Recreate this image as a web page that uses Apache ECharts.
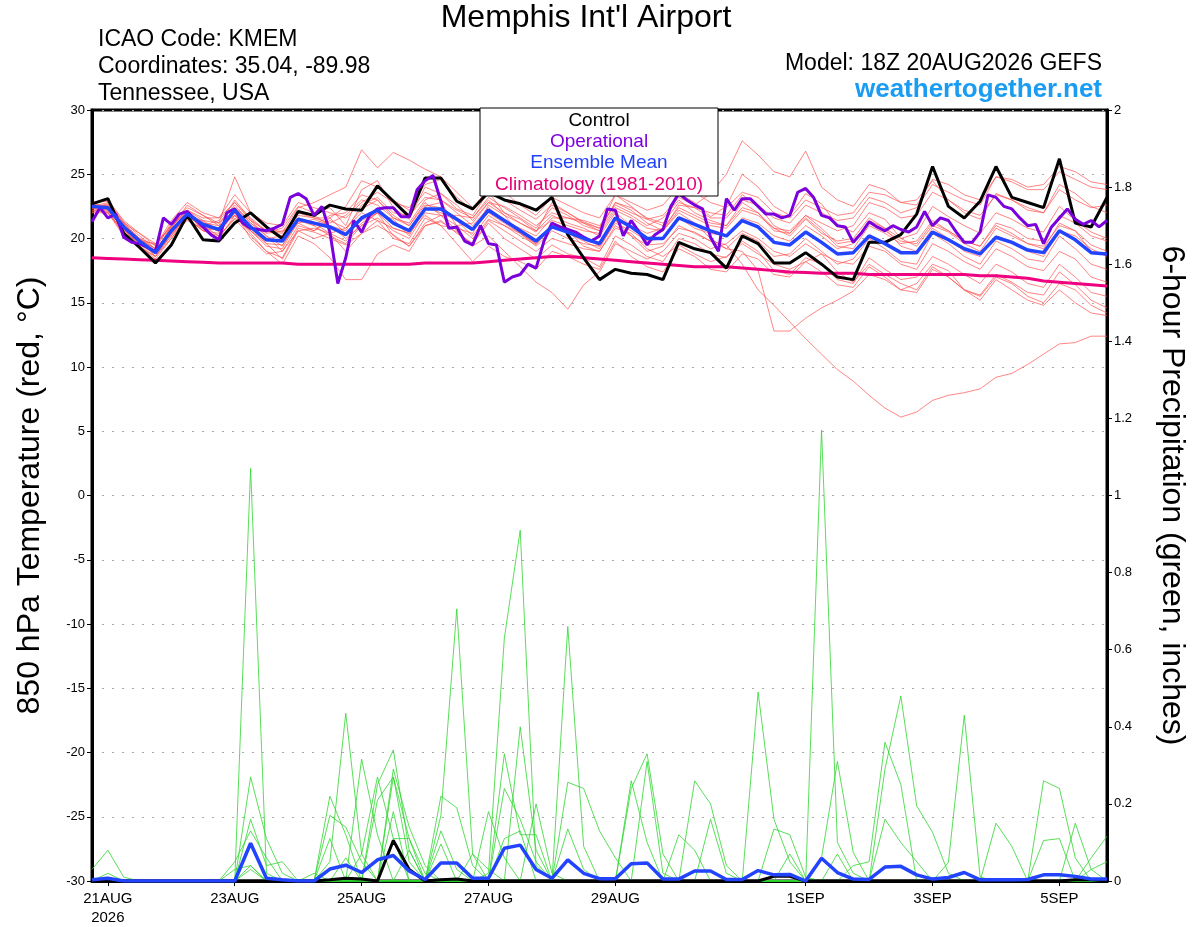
<!DOCTYPE html>
<html>
<head>
<meta charset="utf-8">
<script src="https://cdn.jsdelivr.net/npm/echarts@6/dist/echarts.min.js"></script>
<style>
  html, body { margin: 0; padding: 0; background: #fff; }
  #myChart { width: 1200px; height: 927px; }
</style>
</head>
<body>
<div id="myChart"></div>
<script>
// forecast hours from 20AUG2026 18Z, ensemble every 6 h, operational every 3 h
var tickHours = [6, 54, 102, 150, 198, 270, 318, 366];
var tickNames = ['21AUG\n2026', '23AUG', '25AUG', '27AUG', '29AUG', '1SEP', '3SEP', '5SEP'];

// 850 hPa temperature (C), 6-hourly
var controlTemp = [22.7, 23.1, 20.4, 19.3, 18.1, 19.5, 21.8, 19.9, 19.8, 21.2, 22.0, 20.9, 20.0, 22.1, 21.8, 22.6, 22.3, 22.2, 24.1, 22.9, 21.7, 24.7, 24.7, 22.9, 22.3, 23.6, 23.0, 22.7, 22.2, 23.2, 20.3, 18.5, 16.8, 17.6, 17.3, 17.2, 16.8, 19.7, 19.2, 18.9, 17.7, 20.2, 19.6, 18.1, 18.1, 18.9, 18.0, 17.0, 16.8, 19.7, 19.7, 20.3, 21.9, 25.6, 22.5, 21.6, 22.9, 25.6, 23.2, 22.8, 22.4, 26.2, 21.2, 20.9, 23.2];
var meanTemp = [22.5, 22.4, 20.9, 19.8, 18.9, 20.6, 21.9, 21.1, 20.7, 22.2, 20.9, 19.9, 19.8, 21.5, 21.2, 20.9, 20.3, 21.6, 22.2, 21.2, 20.6, 22.3, 22.3, 21.5, 20.7, 22.2, 21.4, 20.6, 19.8, 20.9, 20.5, 20.0, 19.6, 21.6, 20.9, 20.0, 20.0, 21.6, 21.1, 20.6, 20.2, 21.4, 20.9, 19.7, 19.5, 20.5, 19.7, 18.8, 18.9, 20.2, 19.6, 18.9, 18.9, 20.5, 19.9, 19.2, 18.8, 20.1, 19.7, 19.1, 18.9, 20.6, 19.9, 18.9, 18.8];
var climoTemp = [18.5, 18.45, 18.4, 18.35, 18.3, 18.25, 18.2, 18.15, 18.1, 18.1, 18.1, 18.1, 18.1, 18.0, 18.0, 18.0, 18.0, 18.0, 18.0, 18.0, 18.0, 18.1, 18.1, 18.1, 18.1, 18.2, 18.3, 18.4, 18.5, 18.6, 18.6, 18.5, 18.4, 18.3, 18.2, 18.1, 18.0, 17.9, 17.8, 17.8, 17.8, 17.7, 17.6, 17.5, 17.4, 17.35, 17.3, 17.3, 17.3, 17.2, 17.2, 17.2, 17.2, 17.2, 17.2, 17.2, 17.1, 17.1, 17.0, 16.9, 16.7, 16.6, 16.5, 16.4, 16.3];

// operational run, 3-hourly
var operTemp = [21.3, 22.4, 21.6, 21.9, 20.1, 19.7, 19.6, 19.3, 19.0, 21.6, 21.1, 21.9, 22.1, 21.5, 20.9, 20.3, 19.9, 22.0, 22.3, 21.2, 20.8, 20.7, 20.6, 20.8, 21.1, 23.2, 23.5, 23.1, 21.8, 22.5, 20.5, 16.5, 18.5, 21.4, 20.5, 21.8, 22.3, 22.4, 22.4, 21.7, 21.7, 23.8, 24.5,
  24.9, 22.9, 20.8, 20.9, 19.8, 19.5, 21.0, 19.6, 19.5, 16.6, 17.0, 17.2, 18.0, 17.7, 19.8, 21.2, 20.9, 20.7, 20.5, 20.1, 19.8, 20.2, 22.3, 22.2, 20.2, 21.4, 20.5, 19.5, 20.3, 20.7, 22.5, 23.5, 23.0, 22.6, 22.3, 20.1, 19.0, 23.1, 22.2, 23.1, 23.1, 22.5,
  21.9, 21.9, 21.6, 21.8, 23.6, 23.9, 23.2, 21.8, 21.6, 21.0, 20.9, 19.7, 20.4, 21.3, 20.9, 20.6, 21.0, 20.7, 20.5, 20.9, 22.1, 21.0, 21.6, 21.4, 20.5, 19.7, 19.7, 20.5, 23.4, 23.2, 22.5, 22.3, 21.6, 21.0, 21.1, 19.6, 20.9, 21.6, 22.3, 21.5, 21.1, 21.4, 20.9, 21.4];

// ensemble members, 850 hPa temperature, 6-hourly
var tempMembers = [
  [22.8, 22.9, 21.3, 20.2, 19.2, 21.2, 22.4, 21.8, 21.0, 23.0, 21.5, 20.5, 20.8, 22.5, 22.0, 22.4, 21.0, 23.8, 24.5, 22.4, 21.5, 24.0, 23.5, 22.3, 21.8, 23.6, 22.0, 21.2, 20.5, 22.8, 22.0, 21.3, 20.8, 23.4, 22.5, 21.5, 21.0, 23.5, 22.8, 21.7, 22.5, 25.0, 24.0, 22.5, 21.8, 23.5, 22.7, 21.0, 20.5, 22.0, 21.5, 20.0, 20.4, 22.5, 21.7, 21.0, 20.4, 22.0, 21.5, 20.8, 20.5, 22.5, 21.4, 20.5, 20.0],
  [22.0, 22.0, 20.4, 19.3, 18.6, 20.0, 21.5, 20.6, 20.2, 21.5, 20.2, 19.0, 18.5, 20.8, 20.5, 20.0, 19.5, 20.4, 21.0, 20.3, 19.4, 21.0, 21.3, 20.5, 19.6, 21.2, 20.0, 19.2, 18.4, 19.5, 18.8, 18.5, 17.8, 20.2, 19.5, 18.6, 18.2, 20.0, 19.6, 18.8, 18.5, 19.8, 19.0, 17.5, 17.2, 18.5, 18.0, 16.8, 16.5, 18.5, 17.6, 16.8, 17.0, 18.6, 18.0, 17.2, 16.5, 18.0, 17.4, 16.5, 16.2, 18.0, 17.0, 15.8, 15.5],
  [22.3, 22.6, 21.0, 19.6, 19.0, 20.8, 22.0, 21.3, 20.5, 22.0, 21.0, 19.6, 19.5, 21.2, 21.5, 21.0, 20.0, 21.0, 22.0, 21.5, 20.2, 22.5, 22.8, 21.0, 20.0, 21.5, 21.0, 20.2, 19.5, 21.0, 20.6, 19.4, 19.0, 21.0, 20.2, 19.5, 19.6, 20.8, 20.5, 19.8, 19.5, 18.0, 16.0, 14.8, 13.5, 12.2, 11.0, 9.8, 8.9, 7.8, 6.8, 6.1, 6.5, 7.4, 7.8, 8.0, 8.3, 9.2, 9.5, 10.2, 11.0, 11.8, 11.9, 12.4, 12.4],
  [22.6, 22.2, 20.6, 19.9, 19.2, 20.3, 21.6, 21.4, 21.2, 22.6, 21.2, 20.2, 19.0, 21.0, 20.6, 21.4, 20.8, 22.3, 23.0, 21.8, 21.0, 22.8, 21.8, 21.0, 21.2, 22.8, 22.0, 21.5, 20.6, 21.4, 21.0, 20.6, 20.4, 22.2, 21.6, 20.8, 20.6, 22.0, 21.2, 20.0, 19.2, 19.0, 17.5, 12.8, 12.8, 13.8, 14.6, 15.2, 15.9, 17.2, 16.8, 16.0, 16.5, 18.0, 17.5, 16.0, 15.5, 17.0, 16.5, 15.5, 15.0, 16.5, 16.0, 14.8, 14.2],
  [22.4, 22.7, 21.2, 20.0, 19.5, 21.0, 22.2, 21.0, 21.4, 22.8, 21.4, 20.6, 20.4, 22.0, 21.6, 21.2, 21.8, 23.0, 22.6, 21.6, 21.2, 23.0, 23.5, 22.6, 21.4, 22.8, 22.5, 21.8, 21.0, 22.0, 21.6, 21.4, 21.0, 22.6, 22.0, 21.5, 21.8, 23.2, 22.6, 23.5, 25.0, 27.6, 26.5, 25.2, 24.8, 26.8, 24.0, 23.0, 22.5, 24.2, 23.8, 22.8, 23.0, 24.5, 23.0, 22.0, 21.5, 23.5, 23.0, 22.4, 22.0, 24.2, 23.5, 22.5, 22.0],
  [22.6, 22.3, 21.2, 20.4, 19.6, 20.8, 22.6, 21.8, 21.2, 24.8, 22.0, 20.8, 20.5, 22.4, 22.8, 23.4, 24.0, 26.9, 25.5, 26.7, 26.1, 25.4, 24.8, 23.6, 22.4, 23.8, 23.0, 22.2, 21.5, 22.6, 22.0, 21.2, 20.6, 22.4, 21.8, 21.0, 21.6, 23.0, 22.0, 21.4, 21.0, 22.4, 22.0, 20.8, 20.2, 21.5, 20.4, 19.8, 20.0, 21.6, 20.8, 20.0, 19.4, 21.0, 20.5, 19.6, 19.0, 20.8, 20.2, 19.6, 19.4, 21.0, 20.6, 19.5, 19.0],
  [22.2, 22.0, 20.6, 19.6, 18.8, 20.2, 21.4, 20.8, 20.0, 21.8, 20.4, 19.0, 18.0, 20.2, 19.6, 18.5, 16.8, 16.8, 18.8, 19.5, 19.0, 21.0, 21.4, 20.4, 19.6, 21.4, 20.6, 19.8, 19.0, 20.0, 19.6, 19.2, 19.0, 20.8, 20.4, 19.2, 18.6, 19.5, 18.8, 18.2, 18.6, 19.6, 18.8, 18.0, 17.6, 18.2, 18.8, 17.4, 16.6, 18.0, 17.2, 16.5, 16.0, 17.8, 17.0, 16.0, 15.2, 16.8, 16.0, 15.2, 14.8, 16.0, 15.0, 14.2, 14.0],
  [22.5, 22.8, 21.2, 19.8, 18.6, 20.4, 21.8, 21.0, 20.2, 21.6, 20.6, 19.4, 19.2, 21.4, 21.0, 20.2, 19.6, 21.0, 21.6, 20.6, 20.0, 22.0, 21.8, 20.6, 19.4, 20.2, 19.0, 17.8, 16.6, 15.8, 14.5, 16.4, 17.4, 19.6, 19.0, 18.4, 19.0, 20.4, 20.0, 19.2, 19.6, 20.6, 20.0, 19.0, 18.6, 19.6, 18.8, 18.2, 18.0, 19.4, 19.0, 18.0, 17.6, 19.6, 19.0, 18.2, 17.6, 19.2, 18.6, 17.8, 17.5, 19.0, 18.4, 17.0, 16.6],
  [22.8, 23.0, 21.4, 20.4, 19.4, 21.4, 22.8, 22.0, 21.6, 23.4, 22.0, 21.2, 21.0, 22.8, 22.4, 22.0, 21.6, 22.8, 23.6, 22.8, 22.4, 24.2, 24.6, 23.2, 22.2, 24.0, 23.6, 22.6, 21.8, 23.2, 22.6, 22.0, 21.6, 23.4, 22.8, 22.2, 22.6, 24.0, 23.6, 22.8, 22.4, 23.6, 23.2, 22.0, 21.6, 23.0, 22.4, 21.8, 22.0, 23.6, 23.4, 22.8, 22.6, 24.6, 24.2, 23.4, 23.0, 24.8, 24.4, 23.8, 23.8, 25.2, 24.6, 24.0, 23.8],
  [22.0, 22.4, 20.8, 19.4, 18.4, 20.0, 21.6, 20.6, 20.4, 22.0, 20.0, 18.8, 19.0, 20.6, 20.0, 20.4, 20.8, 22.0, 21.4, 20.0, 19.6, 21.6, 21.0, 20.8, 20.4, 22.6, 21.8, 21.2, 20.6, 21.8, 21.2, 20.8, 20.2, 22.0, 21.0, 20.0, 20.6, 22.2, 21.6, 21.0, 20.8, 22.2, 21.8, 20.8, 20.6, 21.8, 21.2, 20.6, 21.0, 22.8, 22.4, 21.6, 21.8, 23.6, 23.0, 22.2, 21.8, 23.4, 23.0, 22.2, 22.0, 23.8, 23.0, 22.4, 22.6],
  [22.4, 22.1, 20.4, 19.8, 19.6, 21.0, 22.0, 20.6, 20.8, 22.4, 21.2, 20.4, 20.6, 21.2, 20.6, 21.6, 20.4, 21.4, 22.0, 20.2, 19.4, 21.2, 21.8, 21.8, 21.6, 23.0, 21.8, 20.4, 19.6, 21.0, 20.4, 19.8, 19.2, 21.4, 20.2, 19.0, 19.4, 21.0, 20.4, 19.8, 19.2, 20.4, 19.8, 18.6, 18.8, 20.0, 19.0, 18.0, 18.4, 20.0, 19.2, 18.2, 18.0, 20.4, 19.6, 18.6, 18.0, 19.8, 19.2, 18.4, 18.2, 20.2, 19.2, 18.0, 17.6],
  [22.7, 22.5, 21.0, 20.0, 19.0, 20.9, 22.2, 21.4, 20.6, 22.2, 21.0, 20.0, 20.2, 21.8, 21.6, 21.6, 22.5, 24.5, 24.0, 23.0, 22.2, 23.6, 23.0, 22.0, 21.0, 22.4, 21.4, 20.8, 20.2, 21.6, 21.6, 21.2, 20.8, 22.8, 22.2, 21.2, 20.6, 22.6, 22.4, 22.0, 21.8, 23.4, 22.6, 21.0, 20.4, 21.6, 20.6, 19.4, 19.2, 21.0, 20.4, 19.6, 19.8, 21.4, 20.6, 19.8, 19.4, 21.2, 20.8, 20.0, 19.8, 21.8, 21.2, 20.2, 19.8],
  [22.3, 22.2, 20.7, 19.5, 18.8, 20.4, 21.6, 21.2, 21.0, 21.8, 20.6, 19.6, 18.4, 20.6, 20.8, 20.4, 19.0, 20.4, 21.4, 20.8, 20.4, 21.8, 21.0, 19.6, 18.2, 19.4, 18.6, 18.2, 17.6, 19.0, 18.6, 18.0, 17.6, 19.8, 18.6, 17.8, 17.4, 19.2, 18.6, 17.6, 17.4, 18.8, 18.4, 17.2, 17.0, 18.2, 17.4, 16.4, 16.2, 17.8, 17.0, 16.0, 15.8, 17.6, 17.0, 16.0, 15.6, 17.2, 16.6, 15.8, 15.6, 17.4, 16.4, 15.2, 14.6],
  [22.5, 22.6, 21.0, 19.7, 18.9, 21.0, 22.2, 21.6, 21.6, 22.8, 21.6, 20.6, 20.2, 22.0, 21.8, 21.0, 20.6, 22.6, 23.2, 22.0, 21.8, 23.2, 23.0, 22.2, 21.6, 23.2, 22.4, 21.6, 20.8, 22.4, 21.8, 21.0, 20.6, 22.8, 22.4, 21.6, 21.2, 22.8, 22.4, 21.6, 21.6, 23.0, 22.6, 21.6, 21.2, 22.6, 22.0, 21.4, 21.6, 23.2, 22.8, 22.0, 22.4, 24.2, 23.6, 23.0, 22.6, 24.8, 24.6, 24.0, 24.2, 25.6, 25.2, 24.4, 24.2],
  [22.1, 22.5, 21.1, 20.0, 19.2, 20.6, 21.8, 21.0, 20.6, 22.4, 21.4, 20.2, 19.4, 21.6, 21.0, 21.8, 22.0, 23.4, 23.0, 21.6, 21.0, 22.6, 22.4, 21.6, 20.8, 22.0, 21.2, 20.4, 19.4, 20.6, 20.0, 19.6, 19.4, 21.2, 20.6, 19.8, 20.0, 21.6, 20.8, 20.4, 20.2, 21.6, 21.2, 20.2, 19.8, 21.0, 20.2, 19.2, 19.6, 21.4, 20.8, 19.4, 19.0, 20.8, 20.0, 19.0, 18.6, 20.2, 19.8, 19.0, 18.6, 20.6, 20.2, 19.2, 18.6],
  [22.6, 22.0, 20.2, 19.4, 18.6, 20.2, 21.8, 20.8, 20.8, 21.8, 20.6, 19.8, 20.0, 21.6, 21.2, 20.4, 19.8, 21.2, 22.0, 20.8, 20.4, 22.4, 22.0, 21.4, 20.2, 21.8, 21.0, 20.4, 19.6, 21.2, 20.8, 20.2, 19.4, 21.4, 21.0, 20.4, 20.8, 22.4, 21.8, 21.2, 21.0, 22.8, 22.0, 20.6, 20.4, 21.8, 20.8, 19.6, 19.8, 21.2, 20.6, 19.8, 19.6, 21.2, 20.6, 19.8, 19.4, 21.0, 20.4, 19.6, 19.2, 21.2, 20.6, 19.0, 18.8]
];

// 6-hour precipitation (inches), 6-hourly
var controlPrecip = [0, 0, 0, 0, 0, 0, 0, 0, 0, 0, 0, 0, 0, 0, 0, 0.003, 0.007, 0.005, 0, 0.105, 0.03, 0, 0.003, 0.005, 0, 0, 0, 0, 0, 0, 0, 0, 0, 0, 0, 0, 0, 0, 0, 0, 0, 0, 0, 0.012, 0.012, 0, 0, 0, 0, 0, 0, 0, 0, 0, 0, 0, 0, 0, 0, 0, 0, 0, 0.003, 0.003, 0];
var meanPrecip = [0.003, 0.007, 0, 0, 0, 0, 0, 0, 0, 0, 0.098, 0.007, 0.003, 0, 0, 0.031, 0.041, 0.022, 0.055, 0.066, 0.026, 0.004, 0.047, 0.047, 0.007, 0.007, 0.085, 0.093, 0.03, 0.007, 0.055, 0.02, 0.006, 0.006, 0.045, 0.047, 0.005, 0.005, 0.026, 0.026, 0.004, 0.004, 0.027, 0.016, 0.017, 0, 0.059, 0.022, 0.005, 0.004, 0.036, 0.038, 0.016, 0.005, 0.009, 0.022, 0.003, 0.003, 0.003, 0.004, 0.016, 0.016, 0.012, 0.005, 0.005];
var precipMembers = [
  [0.03, 0.08, 0.01, 0, 0, 0, 0, 0, 0, 0, 0, 0, 0, 0, 0, 0.22, 0.12, 0, 0, 0, 0, 0, 0.22, 0.19, 0.04, 0, 0, 0, 0, 0, 0, 0, 0, 0, 0.26, 0.10, 0, 0, 0, 0, 0, 0, 0, 0, 0, 0, 0, 0, 0, 0, 0, 0, 0, 0, 0, 0, 0, 0, 0, 0, 0.26, 0.24, 0.06, 0, 0],
  [0, 0.02, 0, 0, 0, 0, 0, 0, 0, 0, 0, 0, 0, 0, 0, 0.17, 0.14, 0.05, 0, 0, 0, 0, 0.17, 0.706, 0.07, 0, 0, 0, 0, 0, 0, 0, 0, 0, 0.24, 0.33, 0.07, 0, 0, 0, 0, 0, 0, 0, 0, 0, 0, 0, 0, 0, 0, 0, 0, 0, 0, 0, 0, 0, 0, 0, 0.105, 0.11, 0, 0, 0],
  [0, 0, 0, 0, 0, 0, 0, 0, 0, 0.05, 0.13, 0.06, 0, 0, 0, 0.11, 0, 0, 0, 0.18, 0, 0, 0.13, 0.03, 0, 0, 0, 0, 0, 0, 0, 0, 0, 0, 0, 0.31, 0.02, 0, 0, 0, 0, 0, 0, 0, 0, 0, 0, 0, 0, 0, 0, 0, 0, 0, 0, 0, 0, 0, 0, 0, 0, 0, 0.15, 0.03, 0],
  [0, 0, 0, 0, 0, 0, 0, 0, 0, 0.03, 0.04, 0, 0, 0, 0, 0.05, 0.435, 0.07, 0, 0, 0, 0, 0.096, 0, 0, 0, 0, 0, 0, 0, 0, 0, 0, 0, 0, 0, 0, 0.12, 0.08, 0, 0, 0, 0, 0, 0, 0, 0, 0, 0, 0, 0, 0, 0, 0, 0, 0, 0, 0, 0, 0, 0, 0, 0, 0.06, 0.116],
  [0, 0, 0, 0, 0, 0, 0, 0, 0, 0, 1.07, 0.02, 0, 0, 0, 0, 0.06, 0, 0, 0, 0, 0, 0, 0, 0.07, 0.03, 0, 0, 0, 0, 0, 0, 0, 0, 0, 0, 0, 0, 0.26, 0.20, 0.04, 0, 0, 0, 0, 0, 0, 0, 0, 0, 0, 0, 0, 0, 0, 0, 0, 0, 0, 0, 0, 0, 0, 0, 0],
  [0, 0, 0, 0, 0, 0, 0, 0, 0, 0, 0.27, 0.11, 0.02, 0, 0, 0, 0, 0.316, 0.12, 0, 0, 0, 0, 0, 0, 0.18, 0.06, 0, 0, 0, 0, 0, 0, 0, 0, 0, 0, 0, 0, 0.16, 0.02, 0, 0, 0, 0, 0, 0, 0, 0, 0, 0, 0, 0, 0, 0, 0, 0, 0, 0, 0, 0, 0, 0, 0, 0],
  [0, 0, 0, 0, 0, 0, 0, 0, 0, 0, 0.16, 0.04, 0.05, 0, 0, 0, 0, 0.07, 0.27, 0.11, 0, 0, 0, 0, 0, 0.02, 0.63, 0.91, 0.04, 0, 0, 0, 0, 0, 0, 0, 0, 0, 0, 0, 0, 0, 0.49, 0.16, 0.05, 0, 0, 0, 0, 0, 0, 0, 0, 0, 0, 0, 0, 0, 0, 0, 0, 0, 0, 0, 0],
  [0, 0, 0, 0, 0, 0, 0, 0, 0, 0, 0.04, 0, 0, 0, 0, 0, 0, 0, 0.25, 0.34, 0.08, 0, 0, 0, 0, 0, 0.33, 0.12, 0.12, 0, 0, 0, 0, 0, 0, 0, 0, 0, 0, 0, 0, 0, 0, 0.135, 0.12, 0.01, 0, 0, 0, 0, 0, 0, 0, 0, 0, 0, 0, 0, 0, 0, 0, 0, 0, 0, 0],
  [0, 0, 0, 0, 0, 0, 0, 0, 0, 0, 0, 0, 0, 0, 0, 0, 0, 0, 0.21, 0.27, 0.05, 0, 0, 0, 0, 0, 0.24, 0.16, 0.05, 0, 0, 0, 0, 0, 0, 0, 0, 0, 0, 0, 0, 0, 0, 0, 0.07, 0, 0, 0.07, 0, 0, 0, 0, 0, 0, 0, 0, 0, 0, 0, 0, 0, 0, 0, 0, 0],
  [0, 0, 0, 0, 0, 0, 0, 0, 0, 0, 0.03, 0, 0, 0, 0, 0, 0, 0, 0, 0.29, 0.14, 0.04, 0, 0, 0, 0, 0.11, 0.13, 0, 0, 0, 0, 0, 0, 0, 0, 0, 0, 0, 0, 0, 0, 0, 0, 0, 0, 1.17, 0.10, 0.02, 0, 0, 0, 0, 0, 0, 0, 0, 0, 0, 0, 0, 0, 0, 0, 0],
  [0, 0, 0, 0, 0, 0, 0, 0, 0, 0, 0, 0, 0, 0, 0, 0, 0, 0, 0, 0.27, 0.11, 0.02, 0, 0, 0, 0, 0, 0.40, 0.08, 0, 0, 0, 0, 0, 0, 0, 0, 0, 0, 0, 0, 0, 0, 0, 0, 0, 0.06, 0.31, 0.074, 0, 0, 0, 0, 0, 0, 0, 0, 0, 0, 0, 0, 0, 0, 0, 0],
  [0, 0, 0, 0, 0, 0, 0, 0, 0, 0, 0, 0, 0, 0, 0, 0, 0, 0, 0, 0.11, 0.11, 0, 0, 0, 0, 0, 0, 0, 0.20, 0.02, 0, 0, 0, 0, 0, 0, 0, 0, 0, 0, 0, 0, 0, 0, 0, 0, 0, 0, 0.04, 0.05, 0.36, 0.25, 0, 0, 0, 0, 0, 0, 0, 0, 0, 0, 0, 0, 0],
  [0, 0, 0, 0, 0, 0, 0, 0, 0, 0, 0, 0, 0, 0, 0, 0, 0, 0, 0, 0, 0.08, 0, 0, 0, 0, 0, 0, 0, 0, 0, 0.66, 0.09, 0, 0, 0, 0, 0, 0, 0, 0, 0, 0, 0, 0, 0, 0, 0, 0, 0, 0, 0.29, 0.48, 0.195, 0.126, 0.02, 0, 0, 0, 0, 0, 0, 0, 0, 0, 0],
  [0, 0, 0, 0, 0, 0, 0, 0, 0, 0, 0, 0, 0, 0, 0, 0, 0, 0, 0, 0, 0, 0, 0, 0, 0, 0, 0, 0, 0, 0, 0.256, 0.24, 0.13, 0.06, 0, 0, 0, 0, 0, 0, 0, 0, 0, 0, 0, 0, 0, 0, 0, 0, 0.16, 0.10, 0.05, 0, 0, 0, 0, 0, 0, 0, 0, 0, 0, 0, 0],
  [0, 0, 0, 0, 0, 0, 0, 0, 0, 0, 0, 0, 0, 0, 0.02, 0, 0, 0, 0, 0, 0, 0, 0, 0, 0, 0, 0, 0, 0, 0, 0.135, 0.03, 0, 0, 0, 0, 0, 0, 0, 0, 0, 0, 0, 0, 0, 0, 0, 0, 0, 0, 0, 0, 0, 0, 0.048, 0.43, 0.01, 0, 0, 0, 0, 0, 0, 0, 0],
  [0, 0, 0, 0, 0, 0, 0, 0, 0, 0, 0, 0, 0, 0, 0, 0, 0, 0, 0, 0, 0, 0, 0, 0, 0, 0, 0, 0, 0, 0, 0, 0, 0, 0, 0, 0, 0, 0, 0, 0, 0, 0, 0, 0, 0, 0, 0, 0, 0, 0, 0, 0, 0, 0, 0, 0, 0, 0.15, 0.09, 0, 0, 0, 0, 0.03, 0.05]
];

var FONT = 'Liberation Sans, Arial, Helvetica, sans-serif';

function toPairs(values, stepHours) {
    return values.map(function (v, i) { return [i * stepHours, v]; });
}

var series = [];
precipMembers.forEach(function (m) {
    series.push({ type: 'line', yAxisIndex: 1, data: toPairs(m, 6), symbol: 'none', silent: true,
        lineStyle: { color: '#2ed62e', width: 0.8 }, z: 1 });
});
tempMembers.forEach(function (m) {
    series.push({ type: 'line', yAxisIndex: 0, data: toPairs(m, 6), symbol: 'none', silent: true,
        lineStyle: { color: '#ff4a4a', width: 0.8, opacity: 0.85 }, z: 2 });
});
series.push({ type: 'line', yAxisIndex: 1, data: toPairs(controlPrecip, 6), symbol: 'none', lineStyle: { color: '#000', width: 3 }, z: 3 });
series.push({ type: 'line', yAxisIndex: 1, data: toPairs(meanPrecip, 6), symbol: 'none', lineStyle: { color: '#2244ff', width: 3.5 }, z: 4 });
series.push({ type: 'line', yAxisIndex: 0, data: toPairs(climoTemp, 6), symbol: 'none', lineStyle: { color: '#ee0080', width: 3 }, z: 3 });
series.push({ type: 'line', yAxisIndex: 0, data: toPairs(controlTemp, 6), symbol: 'none', lineStyle: { color: '#000', width: 3 }, z: 4 });
series.push({ type: 'line', yAxisIndex: 0, data: toPairs(operTemp, 3), symbol: 'none', lineStyle: { color: '#7a00dc', width: 3 }, z: 5 });
series.push({ type: 'line', yAxisIndex: 0, data: toPairs(meanTemp, 6), symbol: 'none', lineStyle: { color: '#2244ff', width: 3.5 }, z: 6 });

function txt(x, y, text, size, color, align, weight) {
    return { type: 'text', x: x, y: y, z: 100,
        style: { text: text, font: (weight || 'normal') + ' ' + size + 'px ' + FONT, fill: color,
            textAlign: align, textVerticalAlign: 'middle' } };
}

var myChart = echarts.init(document.getElementById('myChart'));
myChart.setOption({
    animation: false,
    backgroundColor: '#fff',
    textStyle: { fontFamily: FONT },
    grid: { left: 92, right: 93, top: 110, bottom: 45, show: true, borderColor: '#000', borderWidth: 3 },
    xAxis: {
        type: 'value', min: 0, max: 384,
        axisLine: { show: true, onZero: false, lineStyle: { color: '#000', width: 3 } },
        axisTick: { show: true, customValues: tickHours, length: 5, lineStyle: { color: '#000', width: 1 } },
        axisLabel: { customValues: tickHours, color: '#000', fontSize: 15, margin: 8, lineHeight: 19,
            formatter: function (v) { return tickNames[tickHours.indexOf(v)] || ''; } },
        splitLine: { show: false }
    },
    yAxis: [{
        type: 'value', min: -30, max: 30, interval: 5, position: 'left',
        name: '850 hPa Temperature (red, °C)', nameLocation: 'middle', nameGap: 46, nameRotate: 90,
        nameTextStyle: { fontSize: 32, color: '#000' },
        axisLine: { show: true, onZero: false, lineStyle: { color: '#000', width: 3 } },
        axisTick: { show: true, length: 5, lineStyle: { color: '#000' } },
        axisLabel: { color: '#000', fontSize: 13, margin: 7 },
        splitLine: { show: true, lineStyle: { color: '#aaa', type: [2, 8], width: 1.2 } }
    }, {
        type: 'value', min: 0, max: 2, interval: 0.2, position: 'right',
        name: '6-hour Precipitation (green, inches)', nameLocation: 'middle', nameGap: 49, nameRotate: -90,
        nameTextStyle: { fontSize: 32, color: '#000' },
        axisLine: { show: true, onZero: false, lineStyle: { color: '#000', width: 3 } },
        axisTick: { show: true, length: 5, lineStyle: { color: '#000' } },
        axisLabel: { color: '#000', fontSize: 13, margin: 7 },
        splitLine: { show: false }
    }],
    graphic: [
        txt(586, 18, "Memphis Int'l Airport", 32, '#000', 'center'),
        txt(98, 40, 'ICAO Code: KMEM', 23, '#000', 'left'),
        txt(98, 67, 'Coordinates: 35.04, -89.98', 23, '#000', 'left'),
        txt(98, 94, 'Tennessee, USA', 23, '#000', 'left'),
        txt(1102, 64, 'Model: 18Z 20AUG2026 GEFS', 23, '#000', 'right'),
        txt(1102, 90, 'weathertogether.net', 26, '#1a9cf2', 'right', 'bold'),
        { type: 'rect', z: 99, shape: { x: 480, y: 108, width: 238, height: 88 },
          style: { fill: '#fff', stroke: '#000', lineWidth: 1 } },
        txt(599, 121, 'Control', 19, '#000', 'center'),
        txt(599, 142, 'Operational', 19, '#8000e0', 'center'),
        txt(599, 163, 'Ensemble Mean', 19, '#2040ff', 'center'),
        txt(599, 185, 'Climatology (1981-2010)', 19, '#e8007a', 'center')
    ],
    series: series
});

window.onresize = function () {
    myChart.resize();
};
</script>
</body>
</html>
